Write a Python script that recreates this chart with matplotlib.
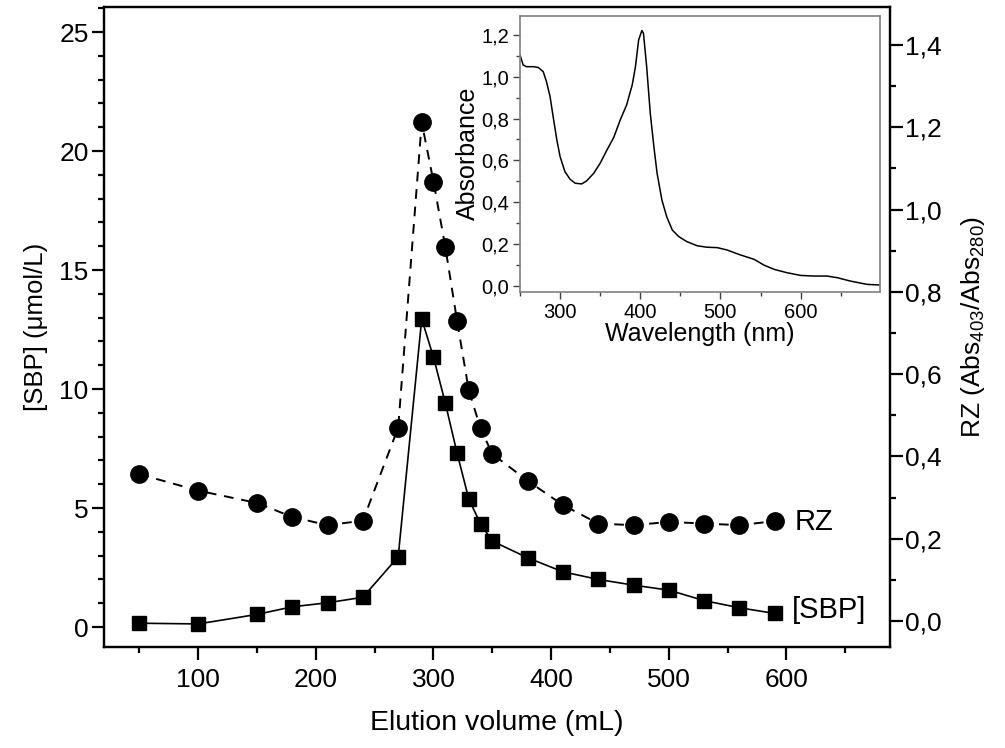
import numpy as np
import matplotlib
matplotlib.use("Agg")
import matplotlib.pyplot as plt
from matplotlib.ticker import MultipleLocator, FuncFormatter

plt.rcParams['font.family'] = ['Liberation Sans', 'DejaVu Sans']
plt.rcParams['mathtext.fontset'] = 'custom'
plt.rcParams['mathtext.rm'] = 'Liberation Sans'
plt.rcParams['mathtext.it'] = 'Liberation Sans'

# elution profile
volume = [50, 100, 150, 180, 210, 240, 270, 290, 300, 310, 320, 330, 340, 350,
          380, 410, 440, 470, 500, 530, 560, 590]
sbp = [0.16, 0.13, 0.53, 0.85, 1.02, 1.25, 2.95, 12.94, 11.34, 9.42, 7.32, 5.38,
       4.33, 3.61, 2.91, 2.32, 2.0, 1.76, 1.55, 1.11, 0.81, 0.57]
rz = [0.357, 0.317, 0.287, 0.253, 0.233, 0.244, 0.470, 1.212, 1.068, 0.910, 0.730,
      0.561, 0.468, 0.406, 0.341, 0.282, 0.237, 0.233, 0.241, 0.237, 0.233, 0.243]

# inset spectrum
wavelength = [250, 254, 258, 267, 273, 279, 283, 287.5, 292, 296, 300, 306, 312.5,
              319, 327, 333, 342, 350, 358, 367, 375, 383, 390, 394, 398, 402, 404,
              408, 412.5, 417, 421, 427, 433, 440, 448, 458, 471, 483, 496, 508,
              525, 542, 554, 567, 583, 600, 617, 633, 646, 662, 683, 700]
absorb = [1.104, 1.056, 1.048, 1.048, 1.044, 1.024, 0.977, 0.905, 0.793, 0.697,
          0.618, 0.546, 0.509, 0.490, 0.487, 0.501, 0.538, 0.586, 0.646, 0.710,
          0.793, 0.865, 0.961, 1.048, 1.176, 1.221, 1.208, 1.048, 0.825, 0.665,
          0.538, 0.410, 0.330, 0.266, 0.235, 0.211, 0.191, 0.184, 0.182, 0.171,
          0.147, 0.126, 0.099, 0.078, 0.062, 0.049, 0.046, 0.046, 0.038, 0.022,
          0.006, 0.003]

comma = FuncFormatter(lambda v, p: ("%.1f" % v).replace('.', ','))

fig = plt.figure(figsize=(10.05, 7.48), dpi=100)
ax = fig.add_axes([0.1035, 0.135, 0.7821, 0.8556])
ax2 = ax.twinx()

ax.plot(volume, sbp, '-', color='black', lw=1.2, marker='s', ms=10.5,
        mfc='black', mec='black', zorder=3)
ax2.plot(volume, rz, '--', color='black', lw=1.4, dashes=(5, 4), marker='o',
         ms=12.5, mfc='black', mec='black', zorder=3)

ax.set_xlim(20, 688)
ax.set_ylim(-0.84, 26.05)
ax2.set_ylim(-0.063, 1.492)

ax.xaxis.set_major_locator(MultipleLocator(100))
ax.xaxis.set_minor_locator(MultipleLocator(50))
ax.yaxis.set_major_locator(MultipleLocator(5))
ax.yaxis.set_minor_locator(MultipleLocator(1))
ax2.yaxis.set_major_locator(MultipleLocator(0.2))
ax2.yaxis.set_minor_locator(MultipleLocator(0.1))
ax2.yaxis.set_major_formatter(comma)

for a in (ax, ax2):
    for s in a.spines.values():
        s.set_linewidth(1.6)
    a.tick_params(which='major', direction='out', length=9, width=1.6,
                  labelsize=19, pad=2)
    a.tick_params(which='minor', direction='out', length=4.5, width=1.6)
ax.tick_params(axis='x', pad=6)

ax.set_xlabel('Elution volume (mL)', fontsize=20.5, labelpad=13)
ax.set_ylabel('[SBP] (\u03bcmol/L)', fontsize=18.5, labelpad=8)
ax2.set_ylabel(r'RZ (Abs$_{403}$/Abs$_{280}$)', fontsize=19, labelpad=12)

ax2.text(607, 0.241, 'RZ', fontsize=21, va='center', ha='left')
ax.text(605, 0.72, '[SBP]', fontsize=21, va='center', ha='left')

# inset
axi = fig.add_axes([0.5174, 0.610, 0.3582, 0.369])
axi.plot(wavelength, absorb, '-', color='black', lw=1.1)
axi.set_xlim(250, 699)
axi.set_ylim(-0.029, 1.292)
axi.xaxis.set_major_locator(MultipleLocator(100))
axi.xaxis.set_minor_locator(MultipleLocator(50))
axi.yaxis.set_major_locator(MultipleLocator(0.2))
axi.yaxis.set_minor_locator(MultipleLocator(0.1))
axi.yaxis.set_major_formatter(comma)
for s in axi.spines.values():
    s.set_color('#808080')
    s.set_linewidth(1.2)
axi.tick_params(which='major', direction='out', length=5, width=1, labelsize=14.5,
                color='#404040', pad=3)
axi.tick_params(which='minor', direction='out', length=3, width=1, color='#404040')
axi.set_xlabel('Wavelength (nm)', fontsize=18, labelpad=0)
axi.set_ylabel('Absorbance', fontsize=18, labelpad=1)

fig.savefig('out.png', dpi=100)
